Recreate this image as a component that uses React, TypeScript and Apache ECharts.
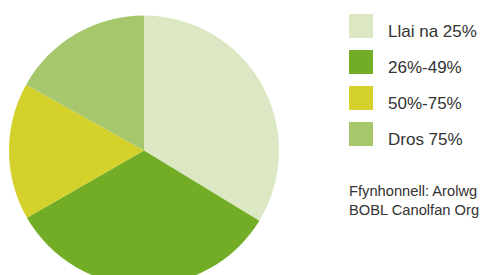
import React, { useEffect, useRef } from "react";
import * as echarts from "echarts";

const categories = ["Llai na 25%", "26%-49%", "50%-75%", "Dros 75%"];
const values = [33.7, 33.0, 16.4, 16.9];
const colors = ["#dce7c4", "#72ad25", "#d4d12c", "#a6c76c"];
const sourceLines = ["Ffynhonnell: Arolwg", "BOBL Canolfan Org"];

export default function App() {
  const ref = useRef<HTMLDivElement>(null);
  useEffect(() => {
    if (!ref.current) return;
    const chart = echarts.init(ref.current, undefined, { renderer: "svg" });
    const font = "'Liberation Sans', Arial, Helvetica, sans-serif";
    const graphic: any[] = [];
    categories.forEach((c, i) => {
      graphic.push({
        type: "rect",
        left: 349,
        top: 14 + 36 * i,
        shape: { width: 24, height: 24 },
        style: { fill: colors[i] },
      });
      graphic.push({
        type: "text",
        x: 388,
        y: 31.5 + 36 * i,
        style: {
          text: c,
          fill: "#333333",
          font: `17px ${font}`,
          verticalAlign: "middle",
          align: "left",
        },
      });
    });
    sourceLines.forEach((t, i) => {
      graphic.push({
        type: "text",
        x: 349,
        y: 191 + 18.7 * i,
        style: {
          text: t,
          fill: "#333333",
          font: `14.7px ${font}`,
          verticalAlign: "middle",
          align: "left",
        },
      });
    });
    chart.setOption({
      animation: false,
      graphic,
      series: [
        {
          type: "pie",
          center: [144, 150.5],
          radius: 135,
          startAngle: 90,
          clockwise: true,
          label: { show: false },
          labelLine: { show: false },
          emphasis: { disabled: true },
          itemStyle: { borderWidth: 0 },
          data: categories.map((c, i) => ({
            name: c,
            value: values[i],
            itemStyle: { color: colors[i] },
          })),
        },
      ],
    });
    return () => chart.dispose();
  }, []);
  return <div ref={ref} style={{ width: 482, height: 275, position: "absolute", left: 0, top: 0 }} />;
}
